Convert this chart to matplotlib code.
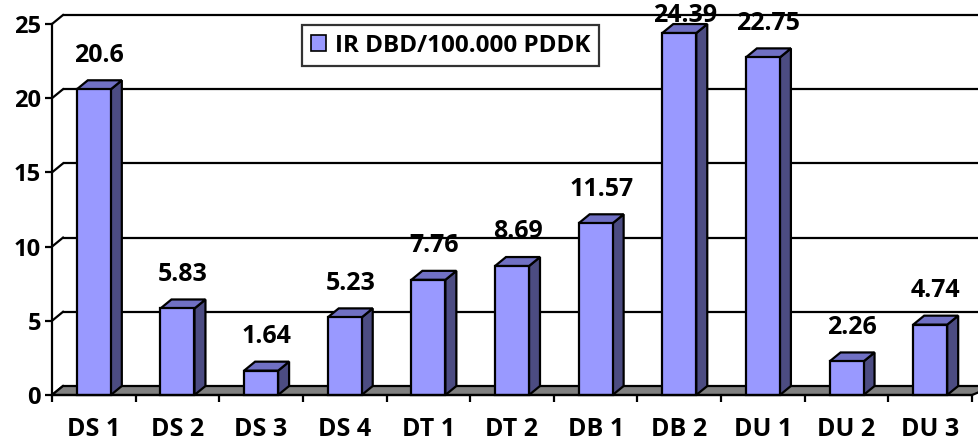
import numpy as np
import matplotlib
matplotlib.use("Agg")
import matplotlib.pyplot as plt
from matplotlib.patches import Polygon, Patch

plt.rcParams["font.family"] = ["Open Sans", "DejaVu Sans"]
plt.rcParams["font.weight"] = "bold"

# ── data ──
categories = ["DS 1", "DS 2", "DS 3", "DS 4", "DT 1", "DT 2",
              "DB 1", "DB 2", "DU 1", "DU 2", "DU 3"]
values = [20.6, 5.83, 1.64, 5.23, 7.76, 8.69, 11.57, 24.39, 22.75, 2.26, 4.74]
value_labels = ["20.6", "5.83", "1.64", "5.23", "7.76", "8.69",
                "11.57", "24.39", "22.75", "2.26", "4.74"]
series_name = "IR DBD/100.000 PDDK"
yticks = [0, 5, 10, 15, 20, 25]

# ── style ──
FRONT = "#9999FF"
TOP = "#7070C4"
SIDE = "#4C4C82"
FLOOR = "#808080"
EDGE = "black"
LW = 1.6
FS = 18

W, H = 979, 441
fig = plt.figure(figsize=(W / 100, H / 100), dpi=100)
x0, x1, y0, y1 = 52, 972, 395, 24
ax = fig.add_axes([x0 / W, (H - y0) / H, (x1 - x0) / W, (y0 - y1) / H])
n = len(categories)
ax.set_xlim(-0.5, n - 0.5)
ax.set_ylim(0, 25)

# depth offset in data units (≈11 px right, 9 px up)
px_x = (x1 - x0) / n
px_y = (y0 - y1) / 25
dx = 11 / px_x
dy = 9 / px_y
bw = 34 / px_x
label_cap = 25 + dy - 0.05   # labels are kept inside the plot top

# floor
ax.add_patch(Polygon([(-0.5, 0), (n - 0.5, 0), (n - 0.5 + dx * 2, dy),
                      (-0.5 + dx, dy)], closed=True, facecolor=FLOOR,
                     edgecolor=EDGE, lw=LW, clip_on=False, zorder=1))

# back wall gridlines + left wall connectors
for t in yticks:
    if t > 0:
        ax.plot([-0.5 + dx, n - 0.5 + dx * 2], [t + dy, t + dy], color=EDGE,
                lw=LW, clip_on=False, zorder=0.5, solid_capstyle="butt")
    ax.plot([-0.5, -0.5 + dx], [t, t + dy], color=EDGE, lw=LW,
            clip_on=False, zorder=0.5)

# bars
for i, v in enumerate(values):
    l, r = i - bw / 2, i + bw / 2
    front = Polygon([(l, 0), (r, 0), (r, v), (l, v)], closed=True)
    side = Polygon([(r, 0), (r + dx, dy), (r + dx, v + dy), (r, v)], closed=True)
    top = Polygon([(l, v), (r, v), (r + dx, v + dy), (l + dx, v + dy)], closed=True)
    for p, c in ((side, SIDE), (top, TOP), (front, FRONT)):
        p.set_facecolor(c)
        p.set_edgecolor(EDGE)
        p.set_linewidth(LW)
        p.set_joinstyle("miter")
        p.set_clip_on(False)
        p.set_zorder(3)
        ax.add_patch(p)
    ly = v + dy + 1.7
    if ly > label_cap:
        ly = label_cap
    ax.text(i + dx / 2, ly, value_labels[i], ha="center", va="center",
            fontsize=FS, fontweight="bold", zorder=4)

# axes, ticks
for s in ("top", "right"):
    ax.spines[s].set_visible(False)
for s in ("left", "bottom"):
    ax.spines[s].set_linewidth(LW)
    ax.spines[s].set_zorder(5)
ax.set_yticks(yticks)
ax.set_yticklabels([str(t) for t in yticks], fontsize=17, fontweight="bold")
ax.tick_params(axis="y", direction="out", length=5, width=LW, pad=3)
ax.set_xticks(np.arange(n))
ax.set_xticklabels(categories, fontsize=FS, fontweight="bold")
ax.tick_params(axis="x", which="major", length=0, pad=16)
ax.set_xticks(np.arange(n + 1) - 0.5, minor=True)
ax.tick_params(axis="x", which="minor", direction="out", length=5, width=LW)
ax.patch.set_visible(False)

# legend
leg = fig.legend(handles=[Patch(facecolor=FRONT, edgecolor=EDGE, lw=1.2)],
                 labels=[series_name], loc="upper left",
                 bbox_to_anchor=(302 / W, 1 - 25 / H), borderaxespad=0,
                 frameon=True, fancybox=False, handlelength=0.65,
                 handleheight=0.65, handletextpad=0.35, borderpad=0.35,
                 prop={"weight": "bold", "size": 17.5})
leg.get_frame().set_edgecolor(EDGE)
leg.get_frame().set_linewidth(LW)

fig.savefig("out.png", dpi=100)
